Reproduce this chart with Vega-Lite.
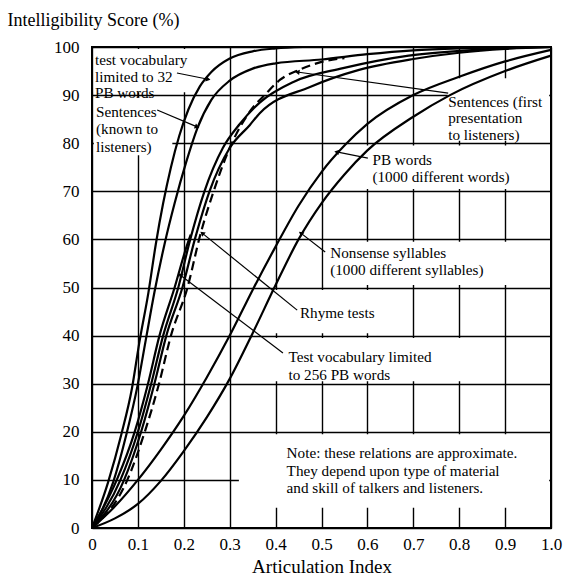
{
  "$schema": "https://vega.github.io/schema/vega-lite/v6.json",
  "width": 459,
  "height": 481,
  "autosize": "none",
  "padding": {"left": 92, "top": 47, "right": 15, "bottom": 52},
  "background": "white",
  "config": {"view": {"stroke": "black", "strokeWidth": 2}, "font": "Liberation Serif"},
  "datasets": {
    "curves": [
      {"c":"A","x":0,"y":0},{"c":"A","x":0.035,"y":9.5},{"c":"A","x":0.064,"y":19.5},{"c":"A","x":0.087,"y":29},{"c":"A","x":0.103,"y":38.5},{"c":"A","x":0.123,"y":49},{"c":"A","x":0.139,"y":59},{"c":"A","x":0.155,"y":67.5},{"c":"A","x":0.172,"y":75},{"c":"A","x":0.19,"y":81.5},{"c":"A","x":0.21,"y":87},{"c":"A","x":0.235,"y":91.8},{"c":"A","x":0.26,"y":94.8},{"c":"A","x":0.3,"y":97.6},{"c":"A","x":0.35,"y":99.1},{"c":"A","x":0.4,"y":99.7},{"c":"A","x":0.46,"y":100},
      {"c":"B","x":0,"y":0},{"c":"B","x":0.046,"y":9.5},{"c":"B","x":0.075,"y":19.5},{"c":"B","x":0.099,"y":29.5},{"c":"B","x":0.117,"y":39},{"c":"B","x":0.136,"y":49},{"c":"B","x":0.158,"y":59},{"c":"B","x":0.18,"y":67.5},{"c":"B","x":0.205,"y":76},{"c":"B","x":0.229,"y":83},{"c":"B","x":0.26,"y":89},{"c":"B","x":0.3,"y":93},{"c":"B","x":0.35,"y":95.5},{"c":"B","x":0.4,"y":96.6},{"c":"B","x":0.5,"y":97.4},{"c":"B","x":0.6,"y":98.5},{"c":"B","x":0.7,"y":99.3},{"c":"B","x":0.8,"y":99.7},{"c":"B","x":0.9,"y":99.9},{"c":"B","x":1.0,"y":100},
      {"c":"C1","x":0,"y":0},{"c":"C1","x":0.054,"y":10},{"c":"C1","x":0.093,"y":20},{"c":"C1","x":0.122,"y":30},{"c":"C1","x":0.147,"y":40},{"c":"C1","x":0.18,"y":50},{"c":"C1","x":0.206,"y":58.5},{"c":"C1","x":0.215,"y":61},
      {"c":"C2","x":0,"y":0},{"c":"C2","x":0.062,"y":10},{"c":"C2","x":0.1,"y":20},{"c":"C2","x":0.129,"y":30},{"c":"C2","x":0.155,"y":40},{"c":"C2","x":0.188,"y":50},{"c":"C2","x":0.214,"y":60},{"c":"C2","x":0.245,"y":70},{"c":"C2","x":0.285,"y":79},{"c":"C2","x":0.322,"y":84},{"c":"C2","x":0.366,"y":88.5},{"c":"C2","x":0.44,"y":92.8},{"c":"C2","x":0.547,"y":95.6},{"c":"C2","x":0.69,"y":98.2},{"c":"C2","x":0.85,"y":99.5},{"c":"C2","x":1.0,"y":100},
      {"c":"C3","x":0,"y":0},{"c":"C3","x":0.07,"y":10},{"c":"C3","x":0.107,"y":20},{"c":"C3","x":0.136,"y":30},{"c":"C3","x":0.162,"y":40},{"c":"C3","x":0.197,"y":50},{"c":"C3","x":0.224,"y":60},{"c":"C3","x":0.256,"y":70},{"c":"C3","x":0.3,"y":79},{"c":"C3","x":0.344,"y":83.8},{"c":"C3","x":0.366,"y":86.3},{"c":"C3","x":0.475,"y":91.7},{"c":"C3","x":0.58,"y":95.2},{"c":"C3","x":0.7,"y":97.5},{"c":"C3","x":0.8,"y":98.8},{"c":"C3","x":0.9,"y":99.6},{"c":"C3","x":1.0,"y":100},
      {"c":"D","x":0,"y":0},{"c":"D","x":0.077,"y":10},{"c":"D","x":0.115,"y":20},{"c":"D","x":0.146,"y":30},{"c":"D","x":0.172,"y":40},{"c":"D","x":0.208,"y":50},{"c":"D","x":0.236,"y":61},{"c":"D","x":0.265,"y":70},{"c":"D","x":0.3,"y":79},{"c":"D","x":0.344,"y":86.6},{"c":"D","x":0.38,"y":90.4},{"c":"D","x":0.41,"y":93.2},{"c":"D","x":0.453,"y":95.3},{"c":"D","x":0.5,"y":96.9},{"c":"D","x":0.55,"y":97.7},
      {"c":"F","x":0,"y":0},{"c":"F","x":0.05,"y":4.5},{"c":"F","x":0.1,"y":10},{"c":"F","x":0.15,"y":16.3},{"c":"F","x":0.2,"y":23.3},{"c":"F","x":0.25,"y":31.3},{"c":"F","x":0.3,"y":40},{"c":"F","x":0.35,"y":49.5},{"c":"F","x":0.4,"y":58.5},{"c":"F","x":0.45,"y":67},{"c":"F","x":0.5,"y":74},{"c":"F","x":0.55,"y":79.5},{"c":"F","x":0.6,"y":84},{"c":"F","x":0.7,"y":90},{"c":"F","x":0.8,"y":93.8},{"c":"F","x":0.9,"y":97},{"c":"F","x":1.0,"y":99.4},
      {"c":"G","x":0,"y":0},{"c":"G","x":0.05,"y":2},{"c":"G","x":0.1,"y":5},{"c":"G","x":0.15,"y":9.8},{"c":"G","x":0.2,"y":16},{"c":"G","x":0.25,"y":23},{"c":"G","x":0.3,"y":31},{"c":"G","x":0.35,"y":40.5},{"c":"G","x":0.4,"y":50.5},{"c":"G","x":0.45,"y":60},{"c":"G","x":0.5,"y":67.5},{"c":"G","x":0.55,"y":73.5},{"c":"G","x":0.6,"y":78.5},{"c":"G","x":0.7,"y":85.5},{"c":"G","x":0.78,"y":90},{"c":"G","x":0.9,"y":95},{"c":"G","x":1.0,"y":98.2}
    ],
    "boxes": [
      {"x":0.004,"x2":0.26,"y":90.6,"y2":99.6},
      {"x":0.004,"x2":0.175,"y":77.5,"y2":89.5},
      {"x":0.775,"x2":0.996,"y":80.5,"y2":93.5},
      {"x":0.585,"x2":0.996,"y":70.5,"y2":79.5},
      {"x":0.505,"x2":0.996,"y":50.5,"y2":59.5},
      {"x":0.38,"x2":0.68,"y":40.5,"y2":49.5},
      {"x":0.35,"x2":0.87,"y":30.5,"y2":39.5},
      {"x":0.32,"x2":0.996,"y":4.2,"y2":19.5}
    ],
    "pointers": [
      {"x":0.185,"y":94.6,"x2":0.253,"y2":93.3},
      {"x":0.142,"y":86.9,"x2":0.229,"y2":83.4},
      {"x":0.776,"y":90.4,"x2":0.447,"y2":94.8},
      {"x":0.601,"y":76.9,"x2":0.533,"y2":78.2},
      {"x":0.508,"y":57.4,"x2":0.455,"y2":61.3},
      {"x":0.447,"y":45.3,"x2":0.24,"y2":61.3},
      {"x":0.416,"y":36.4,"x2":0.192,"y2":52.6}
    ],
    "labels": [
      {"x":0.0065,"y":97.3,"t":"test vocabulary"},
      {"x":0.0065,"y":93.8,"t":"limited to 32"},
      {"x":0.0065,"y":90.4,"t":"PB words"},
      {"x":0.0087,"y":86.5,"t":"Sentences"},
      {"x":0.0087,"y":82.9,"t":"(known to"},
      {"x":0.0087,"y":79.3,"t":"listeners)"},
      {"x":0.776,"y":88.6,"t":"Sentences (first"},
      {"x":0.776,"y":85.2,"t":"presentation"},
      {"x":0.776,"y":81.7,"t":"to listeners)"},
      {"x":0.611,"y":76.5,"t":"PB words"},
      {"x":0.611,"y":73.0,"t":"(1000 different words)"},
      {"x":0.519,"y":57.1,"t":"Nonsense syllables"},
      {"x":0.519,"y":53.6,"t":"(1000 different syllables)"},
      {"x":0.453,"y":44.6,"t":"Rhyme tests"},
      {"x":0.428,"y":35.6,"t":"Test vocabulary limited"},
      {"x":0.428,"y":31.8,"t":"to 256 PB words"},
      {"x":0.424,"y":15.5,"t":"Note: these relations are approximate."},
      {"x":0.424,"y":11.9,"t":"They depend upon type of material"},
      {"x":0.424,"y":8.25,"t":"and skill of talkers and listeners."}
    ]
  },
  "encoding": {
    "x": {
      "field": "x", "type": "quantitative",
      "scale": {"domain": [0, 1], "nice": false, "zero": false},
      "axis": {
        "values": [0, 0.1, 0.2, 0.3, 0.4, 0.5, 0.6, 0.7, 0.8, 0.9, 1.0],
        "labelExpr": "datum.value == 0 ? '0' : format(datum.value, '.1f')",
        "grid": true, "gridColor": "black", "gridWidth": 1.4, "gridOpacity": 1,
        "ticks": false, "domain": false, "labelFlush": false, "labelOverlap": false,
        "labelFont": "Liberation Serif", "labelFontSize": 17, "labelColor": "black", "labelPadding": 8,
        "title": "Articulation Index", "titleFont": "Liberation Serif", "titleFontSize": 19,
        "titleFontWeight": "normal", "titleColor": "black", "titlePadding": 5
      }
    },
    "y": {
      "field": "y", "type": "quantitative",
      "scale": {"domain": [0, 100], "nice": false},
      "axis": {
        "values": [0, 10, 20, 30, 40, 50, 60, 70, 80, 90, 100],
        "format": "d",
        "grid": true, "gridColor": "black", "gridWidth": 1.4, "gridOpacity": 1,
        "ticks": false, "domain": false, "labelFlush": false, "labelOverlap": false,
        "labelFont": "Liberation Serif", "labelFontSize": 17, "labelColor": "black", "labelPadding": 13,
        "title": "Intelligibility Score (%)", "titleFont": "Liberation Serif", "titleFontSize": 18,
        "titleFontWeight": "normal", "titleColor": "black", "titleAngle": 0,
        "titleAlign": "left", "titleBaseline": "middle", "titleX": -85, "titleY": -27
      }
    }
  },
  "layer": [
    {
      "data": {"name": "boxes"},
      "mark": {"type": "rect", "fill": "white", "strokeWidth": 0},
      "encoding": {"x2": {"field": "x2"}, "y2": {"field": "y2"}}
    },
    {
      "data": {"name": "curves"},
      "transform": [{"filter": "datum.c != 'D'"}],
      "mark": {"type": "line", "stroke": "black", "strokeWidth": 2.2, "interpolate": "monotone"},
      "encoding": {"detail": {"field": "c"}}
    },
    {
      "data": {"name": "curves"},
      "transform": [{"filter": "datum.c == 'D'"}],
      "mark": {"type": "line", "stroke": "black", "strokeWidth": 2.2, "strokeDash": [9, 5], "interpolate": "monotone"},
      "encoding": {"detail": {"field": "c"}}
    },
    {
      "data": {"name": "pointers"},
      "mark": {"type": "rule", "stroke": "black", "strokeWidth": 1.2},
      "encoding": {"x2": {"field": "x2"}, "y2": {"field": "y2"}}
    },
    {
      "data": {"name": "pointers"},
      "transform": [
        {"calculate": "atan2((datum.x2 - datum.x) * 459, (datum.y2 - datum.y) * 4.81) * 180 / PI", "as": "ang"},
        {"calculate": "datum.x2", "as": "x"},
        {"calculate": "datum.y2", "as": "y"}
      ],
      "mark": {"type": "point", "shape": "triangle-up", "filled": true, "fill": "black", "stroke": null, "size": 30, "opacity": 1},
      "encoding": {"angle": {"field": "ang", "type": "quantitative", "scale": null}}
    },
    {
      "data": {"name": "labels"},
      "mark": {"type": "text", "align": "left", "baseline": "middle", "font": "Liberation Serif", "fontSize": 15.2, "color": "black"},
      "encoding": {"text": {"field": "t"}}
    }
  ]
}
